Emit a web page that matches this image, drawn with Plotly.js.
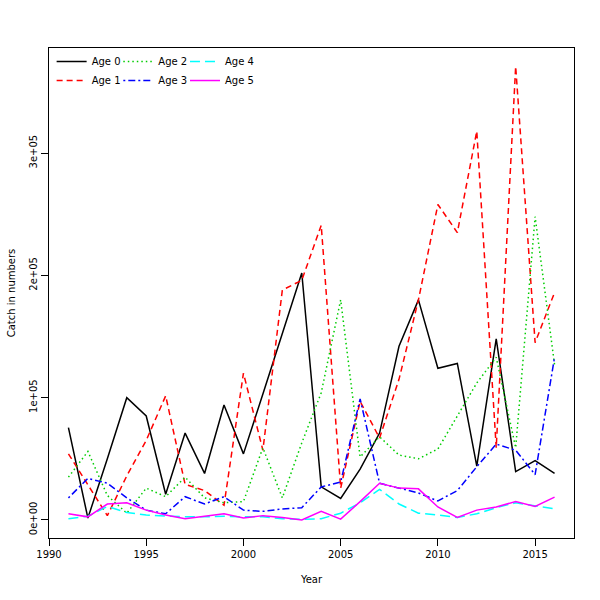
<!DOCTYPE html>
<html>
<head>
<meta charset="utf-8">
<script src="https://cdn.plot.ly/plotly-3.0.1.min.js"></script>
<style>html,body{margin:0;padding:0;background:#fff;}#chart{width:600px;height:600px;}</style>
</head>
<body>
<div id="chart"></div>
<script>
const years = [1991,1992,1993,1994,1995,1996,1997,1998,1999,2000,2001,2002,2003,2004,2005,2006,2007,2008,2009,2010,2011,2012,2013,2014,2015,2016];
const age0 = [75500,1500,50000,100000,85000,21000,71000,38000,94000,54000,103000,153000,202000,27000,17500,41500,71000,142000,180000,124000,128000,44000,148000,39500,48500,38000];
const age1 = [54000,29000,3500,36000,65000,101500,29000,24000,12000,120000,57000,188000,196000,241000,26000,97000,67000,115000,180000,258000,235000,318000,59000,371000,145000,186000];
const age2 = [35000,56000,20000,5500,26000,19000,35000,18000,14000,15000,59000,18000,63000,104000,180000,51500,68000,53000,50000,58000,85000,112000,133000,59000,248000,127000];
const age3 = [18000,34000,30000,18000,8000,5000,19000,13000,19000,8000,7000,9000,10000,27000,31000,99000,30000,26000,22000,15500,24000,43500,62000,57000,37000,133000];
const age4 = [1000,3000,11000,6000,4000,3000,2500,2500,3000,2500,2500,1000,500,1000,5500,14000,25000,13000,5500,4000,2000,5000,10000,14000,11500,9000];
const age5 = [5000,2500,13000,14000,8000,4000,1000,3000,5000,1500,3500,2000,0,7000,600,15000,30000,26000,25400,10600,2000,8000,10600,15000,11000,18600];

const seriesNames = ["Age 0","Age 1","Age 2","Age 3","Age 4","Age 5"];
const seriesValues = [age0, age1, age2, age3, age4, age5];
const colors = ["#000000","#FF0000","#00CD00","#0000FF","#00FFFF","#FF00FF"];
const dashes = ["solid","6px,4px","1.5px,3px","2px,3px,7px,3px","10px,5px","solid"];
const legendIds = ["legend","legend","legend2","legend2","legend3","legend3"];

const xTickVals = [1990,1995,2000,2005,2010,2015];
const yTickVals = [0,100000,200000,300000];
const yTickText = ["0e+00","1e+05","2e+05","3e+05"];

const traces = seriesNames.map((n,i)=>({
  x: years, y: seriesValues[i], name: n, type: "scatter", mode: "lines",
  line: {color: colors[i], width: 1.5, dash: dashes[i]},
  legend: legendIds[i]
}));

const fnt = {family: "DejaVu Sans, Arial, sans-serif", size: 10, color: "#000"};
const legBase = {orientation: "v", bgcolor: "rgba(0,0,0,0)", borderwidth: 0, font: fnt,
  xanchor: "left", yanchor: "top", y: 1.002, itemwidth: 30, tracegroupgap: 0};

const layout = {
  width: 600, height: 600,
  margin: {l: 49, r: 26, t: 48, b: 62},
  paper_bgcolor: "#fff", plot_bgcolor: "#fff",
  font: fnt,
  showlegend: true,
  xaxis: {
    range: [1990, 2017], tickmode: "array", tickvals: xTickVals,
    ticks: "outside", ticklen: 7, tickwidth: 1, tickcolor: "#000",
    showline: true, mirror: true, linecolor: "#000", linewidth: 1,
    showgrid: false, zeroline: false, tickfont: fnt,
    title: {text: "Year", font: fnt, standoff: 16}
  },
  yaxis: {
    range: [-14800, 386000], tickmode: "array", tickvals: yTickVals, ticktext: yTickText,
    ticks: "outside", ticklen: 7, tickwidth: 1, tickcolor: "#000", tickangle: -90,
    showline: true, mirror: true, linecolor: "#000", linewidth: 1,
    showgrid: false, zeroline: false, tickfont: fnt,
    title: {text: "Catch in numbers", font: fnt, standoff: 10}
  },
  legend: Object.assign({}, legBase, {x: 0.005}),
  legend2: Object.assign({}, legBase, {x: 0.132}),
  legend3: Object.assign({}, legBase, {x: 0.259})
};

Plotly.newPlot("chart", traces, layout, {displayModeBar: false, staticPlot: true});
</script>
</body>
</html>
